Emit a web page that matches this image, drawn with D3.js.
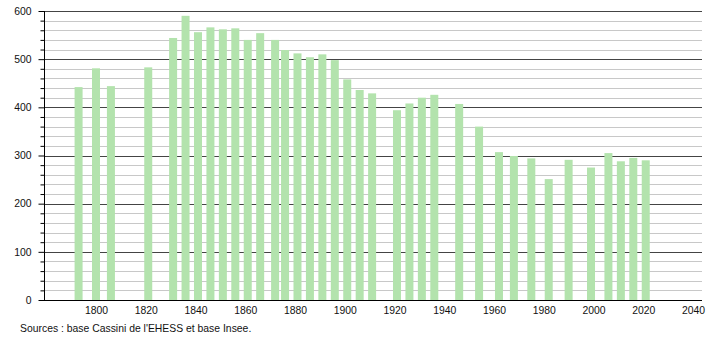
<!DOCTYPE html>
<html><head><meta charset="utf-8">
<script src="https://cdn.jsdelivr.net/npm/d3@7"></script>
<style>body{margin:0;background:#fff}svg{display:block;font-family:"Liberation Sans",Arial,sans-serif}</style>
</head><body><svg id="c" width="710" height="340"></svg>
<script>
const years = [1793,1800,1806,1821,1831,1836,1841,1846,1851,1856,1861,1866,1872,1876,1881,1886,1891,1896,1901,1906,1911,1921,1926,1931,1936,1946,1954,1962,1968,1975,1982,1990,1999,2006,2011,2016,2021];
const population = [442,481,444,483,544,590,556,566,562,564,540,554,540,519,512,504,510,498,458,436,429,394,408,420,426,407,360,307,299,294,251,291,275,305,288,295,290];
const xTicks = [1800,1820,1840,1860,1880,1900,1920,1940,1960,1980,2000,2020,2040];
const yTicks = [0,100,200,300,400,500,600];
const sourceText = "Sources : base Cassini de l'EHESS et base Insee.";

const svg = d3.select("#c");
const mLeft = 44, mRight = 702, mTop = 11, mBottom = 300;
const fs = 10.4;
const x = d3.scaleLinear().domain([1800,2040]).range([96,693]);
const y = d3.scaleLinear().domain([0,600]).range([mBottom,mTop]);

// minor grid
const minor = d3.range(0,601,20).filter(v=>v%100!==0);
svg.append("g").selectAll("line").data(minor).join("line")
  .attr("x1",mLeft).attr("x2",mRight).attr("y1",d=>Math.round(y(d))+0.5).attr("y2",d=>Math.round(y(d))+0.5)
  .attr("stroke","#c8c8c8").attr("stroke-width",1);
// major grid
svg.append("g").selectAll("line").data(yTicks.filter(v=>v>0)).join("line")
  .attr("x1",mLeft).attr("x2",mRight).attr("y1",d=>Math.round(y(d))+0.5).attr("y2",d=>Math.round(y(d))+0.5)
  .attr("stroke","#444").attr("stroke-width",1);

// bars
svg.append("g").selectAll("rect").data(years).join("rect")
  .attr("x",(d)=>x(d)-4).attr("width",8)
  .attr("y",(d,i)=>y(population[i])).attr("height",(d,i)=>mBottom-y(population[i]))
  .attr("fill","#b3e3ad");

// y axis
const ya = svg.append("g").attr("transform",`translate(${mLeft+0.5},0)`)
  .call(d3.axisLeft(y).tickValues(d3.range(0,601,20)).tickSize(4).tickFormat(d=>d%100===0?d:""));
ya.select(".domain").attr("d",`M0,${mTop}V${mBottom}`).attr("stroke","#000");
ya.selectAll(".tick line").attr("stroke","#000").attr("x2",-4);
ya.selectAll(".tick").filter(d=>d%100===0).select("line").attr("x2",-6);
ya.selectAll("text").attr("font-size",fs).attr("fill","#111").attr("x",-13).attr("font-family","Liberation Sans, Arial, sans-serif");

// x axis
const xa = svg.append("g").attr("transform",`translate(0,${mBottom+0.5})`)
  .call(d3.axisBottom(x).tickValues(xTicks).tickSize(0).tickFormat(d3.format("d")));
xa.select(".domain").attr("d",`M${mLeft},0H${mRight}`).attr("stroke","#000");
xa.selectAll("text").attr("font-size",fs).attr("fill","#111").attr("dy","0.95em").attr("y",4).attr("font-family","Liberation Sans, Arial, sans-serif");

svg.append("text").attr("x",20).attr("y",332).attr("font-size",fs).attr("fill","#111").text(sourceText);
</script></body></html>
